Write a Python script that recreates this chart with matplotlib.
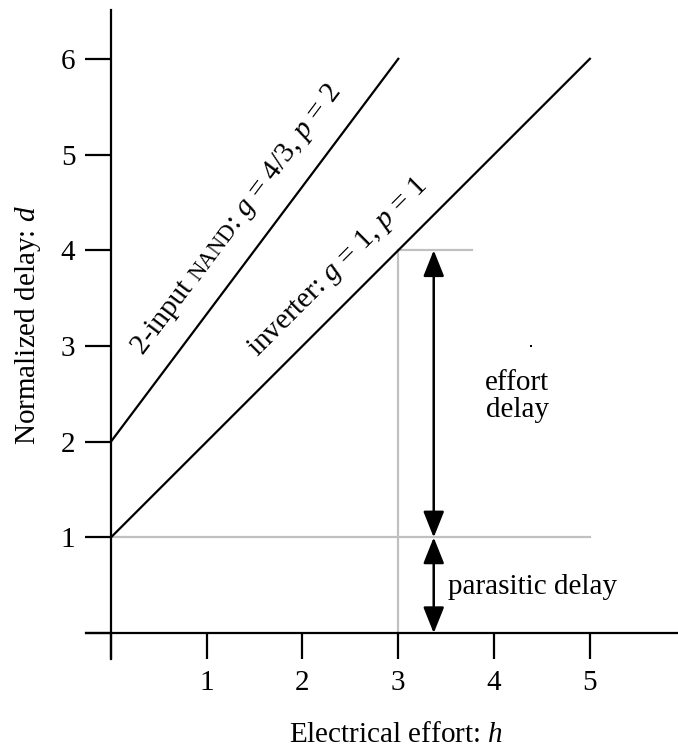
import numpy as np
import matplotlib
matplotlib.use('Agg')
import matplotlib.pyplot as plt

plt.rcParams['font.family'] = ['Liberation Serif', 'DejaVu Serif']
plt.rcParams['mathtext.fontset'] = 'custom'
plt.rcParams['mathtext.rm'] = 'Liberation Serif'
plt.rcParams['mathtext.it'] = 'Liberation Serif:italic'

# ---- data ----
inv_h = [0, 5]
inv_d = [1, 6]
nand_h = [0, 3]
nand_d = [2, 6]
x_ticks = [0, 1, 2, 3, 4, 5]
x_ticklabels = ['', '1', '2', '3', '4', '5']
y_ticks = [0, 1, 2, 3, 4, 5, 6]
y_ticklabels = ['', '1', '2', '3', '4', '5', '6']
parasitic_line_h = [0, 5]      # gray guide at d = 1
parasitic_d = 1
guide_h = 3                    # gray vertical guide at h = 3
guide_d = 4                    # total delay at h = 3 for inverter
guide_top_h = [3, 3.77]
arrow_h = 3.37
stray_dot = (4.39, 3.0)

FS = 21
fig = plt.figure(figsize=(6.78, 7.53), dpi=100)
W, H = 678, 753
ax = fig.add_axes([86 / W, 1 - 659 / H, (678 - 86) / W, (659 - 10) / H])
ax.set_xlim(-0.26, 5.92)
ax.set_ylim(-0.27, 6.51)

for s in ['top', 'right']:
    ax.spines[s].set_visible(False)
ax.spines['left'].set_position(('data', 0))
ax.spines['bottom'].set_position(('data', 0))
for s in ['left', 'bottom']:
    ax.spines[s].set_linewidth(1.6)

ax.set_xticks(x_ticks)
ax.set_xticklabels(x_ticklabels)
ax.set_yticks(y_ticks)
ax.set_yticklabels(y_ticklabels)
ax.tick_params(axis='both', direction='out', length=18.5, width=1.6,
               labelsize=FS)
ax.tick_params(axis='x', pad=8)
ax.tick_params(axis='y', pad=7)

gray = '#c0c0c0'
ax.plot(parasitic_line_h, [parasitic_d, parasitic_d], color=gray, lw=1.6, zorder=1)
ax.plot([guide_h, guide_h], [0, guide_d], color=gray, lw=1.6, zorder=1)
ax.plot(guide_top_h, [guide_d, guide_d], color=gray, lw=1.6, zorder=1)

ax.plot(inv_h, inv_d, color='black', lw=1.6, zorder=3)
ax.plot(nand_h, nand_d, color='black', lw=1.6, zorder=3)

astyle = dict(arrowstyle='<|-|>,head_length=0.8,head_width=0.32',
              color='black', lw=1.8, shrinkA=0, shrinkB=0, mutation_scale=20)
ax.annotate('', xy=(arrow_h, guide_d), xytext=(arrow_h, parasitic_d),
            arrowprops=astyle)
ax.annotate('', xy=(arrow_h, parasitic_d), xytext=(arrow_h, 0),
            arrowprops=astyle)

ax.text(4.24, 2.47, 'effort\ndelay', fontsize=FS, ha='center', va='center',
        linespacing=1.05)
ax.text(3.52, 0.48, 'parasitic delay', fontsize=FS, ha='left', va='center')
ax.plot([stray_dot[0]], [stray_dot[1]], 's', color='black', ms=1.8, mew=0)

ax.set_xlabel('Electrical effort: $h$', fontsize=FS)
ax.set_ylabel('Normalized delay: $d$', fontsize=FS)
ax.xaxis.set_label_coords((396 - 86) / 592, (659 - 722) / 649)
ax.yaxis.set_label_coords((43 - 86) / 592, (659 - 325) / 649)

# ---- rotated line labels composed of pieces ----
fig.canvas.draw()
renderer = fig.canvas.get_renderer()


def angle_of(hs, ds):
    p1 = ax.transData.transform((hs[0], ds[0]))
    p2 = ax.transData.transform((hs[1], ds[1]))
    return np.degrees(np.arctan2(p2[1] - p1[1], p2[0] - p1[0]))


def rotated_label(pieces, center, ang):
    widths = []
    for txt, fs in pieces:
        t = fig.text(0, 0, txt, fontsize=fs)
        bb = t.get_window_extent(renderer)
        widths.append(bb.width)
        t.remove()
    total = sum(widths)
    c = ax.transData.transform(center)
    u = np.array([np.cos(np.radians(ang)), np.sin(np.radians(ang))])
    start = c - u * total / 2
    pos = start.copy()
    inv = ax.transData.inverted()
    for (txt, fs), w in zip(pieces, widths):
        p = inv.transform(pos)
        ax.text(p[0], p[1], txt, fontsize=fs, rotation=ang,
                rotation_mode='anchor', ha='left', va='baseline')
        pos = pos + u * w


a_nand = angle_of(nand_h, nand_d)
a_inv = angle_of(inv_h, inv_d)
rotated_label([('2-input ', FS), ('NAND', FS * 0.78),
               (': $g$ = 4/3, $p$ = 2', FS)], (1.375, 4.28), a_nand)
rotated_label([('inverter: $g$ = 1, $p$ = 1', FS)], (2.42, 3.77), a_inv)

fig.savefig('out.png', dpi=100)
